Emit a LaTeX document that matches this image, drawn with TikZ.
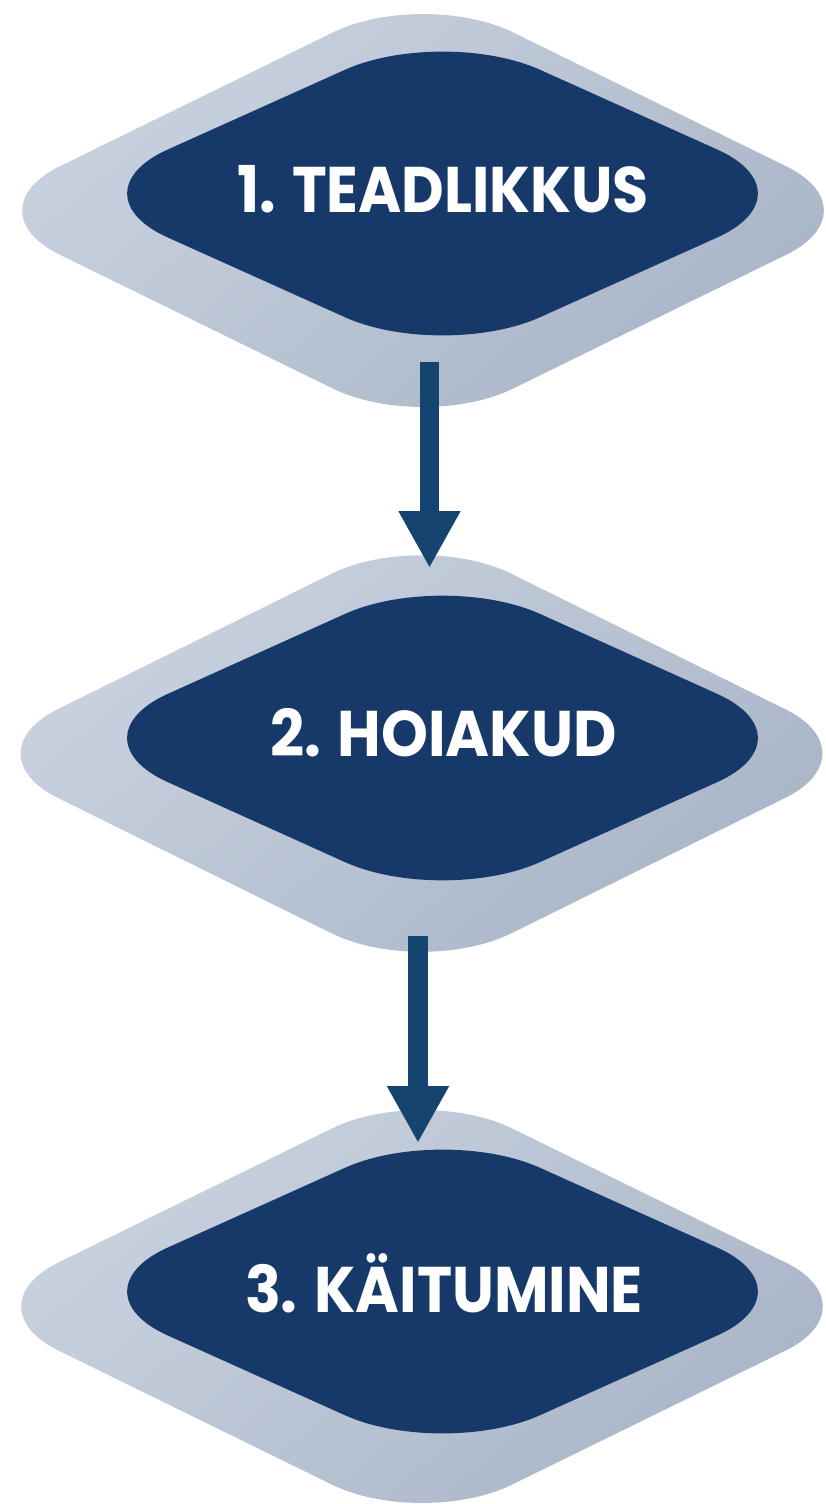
\documentclass[tikz,border=0pt]{standalone}
\usepackage{fontspec}
\usepackage{graphicx}
\newfontfamily\lblfont{Poppins}
\usetikzlibrary{arrows.meta}

\definecolor{navy}{HTML}{17396A}
\definecolor{arrowblue}{HTML}{154470}
\definecolor{outerlight}{HTML}{C9D2DF}
\definecolor{outerdark}{HTML}{A9B5C8}

\newsavebox\lblbox
% text stretched to a given width (in pt)
\newcommand\fitlabel[2]{%
  \sbox\lblbox{#2}%
  \pgfmathsetmacro\lblfx{#1/\the\wd\lblbox}%
  \scalebox{\lblfx}[1]{\usebox\lblbox}}

% diamond with rounded corners: style, cx, cy, half width, half height,
% tangent length at left/right corners, tangent length at top/bottom corners
\newcommand\rdiamond[7]{%
  \pgfmathsetmacro\rdL{100*sqrt((#4/100)*(#4/100)+(#5/100)*(#5/100))}%
  \pgfmathsetmacro\rdux{(#4)/\rdL}%
  \pgfmathsetmacro\rduy{(#5)/\rdL}%
  \pgfmathsetmacro\ha{(#6)*\rdux}\pgfmathsetmacro\va{(#6)*\rduy}%
  \pgfmathsetmacro\hb{0.4477*(#6)*\rdux}\pgfmathsetmacro\vb{0.4477*(#6)*\rduy}%
  \pgfmathsetmacro\hc{(#7)*\rdux}\pgfmathsetmacro\vc{(#7)*\rduy}%
  \pgfmathsetmacro\hd{0.4477*(#7)*\rdux}\pgfmathsetmacro\vd{0.4477*(#7)*\rduy}%
  \path[#1]
    ({#2-#4+\ha},{#3-\va}) .. controls ({#2-#4+\hb},{#3-\vb}) and ({#2-#4+\hb},{#3+\vb}) .. ({#2-#4+\ha},{#3+\va})
    -- ({#2-\hc},{#3+#5-\vc}) .. controls ({#2-\hd},{#3+#5-\vd}) and ({#2+\hd},{#3+#5-\vd}) .. ({#2+\hc},{#3+#5-\vc})
    -- ({#2+#4-\ha},{#3+\va}) .. controls ({#2+#4-\hb},{#3+\vb}) and ({#2+#4-\hb},{#3-\vb}) .. ({#2+#4-\ha},{#3-\va})
    -- ({#2+\hc},{#3-#5+\vc}) .. controls ({#2+\hd},{#3-#5+\vd}) and ({#2-\hd},{#3-#5+\vd}) .. ({#2-\hc},{#3-#5+\vc})
    -- cycle;}

\tikzset{
  outerbox/.style={top color=outerlight, bottom color=outerdark, shading angle=40},
  innerbox/.style={fill=navy},
  steplabel/.style={text=white, anchor=base, inner sep=0pt,
    font=\lblfont\bfseries\fontsize{64.5}{70}\selectfont},
  flowarrow/.style={draw=arrowblue, line width=19.5pt,
    -{Triangle[width=58pt,length=57pt]}}
}

\begin{document}
\begin{tikzpicture}[x=1pt,y=-1pt]
  \useasboundingbox (0,0) rectangle (826,1504);
  \fill[white] (0,0) rectangle (826,1504);

  % three stages: soft outer plate and dark inner plate
  \rdiamond{outerbox}{423}{210.5}{453.4}{222.2}{100}{100}
  \rdiamond{innerbox}{442.5}{193.5}{372.5}{167.6}{107}{107}

  \rdiamond{outerbox}{421.5}{753.5}{453.4}{224.2}{100}{100}
  \rdiamond{innerbox}{442.5}{738}{372.5}{168.1}{107}{107}

  \rdiamond{outerbox}{422}{1306.5}{453.4}{222.2}{100}{100}
  \rdiamond{innerbox}{442.5}{1291.5}{372.5}{167.6}{107}{107}

  % stage labels
  \node[steplabel] (t1) at (443,212.7) {\fitlabel{412}{1. TEADLIKKUS}};
  \node[steplabel] (t2) at (443.5,756.7) {\fitlabel{347}{2. HOIAKUD}};
  \node[steplabel] (t3) at (444,1312) {\fitlabel{398}{3. KÄITUMINE}};

  % connectors between the stages
  \coordinate (a1s) at (429.5,362);
  \coordinate (a1e) at (429.5,568);
  \coordinate (a2s) at (418,936);
  \coordinate (a2e) at (418,1143);
  \draw[flowarrow] (a1s) -- (a1e);
  \draw[flowarrow] (a2s) -- (a2e);
\end{tikzpicture}
\end{document}
